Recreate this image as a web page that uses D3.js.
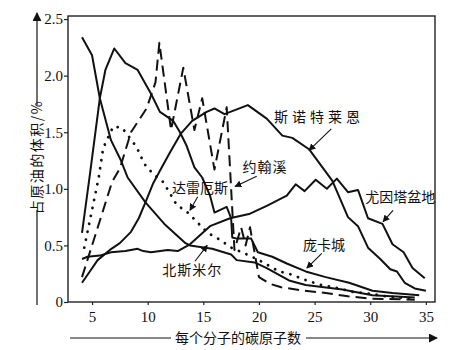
<!DOCTYPE html>
<html>
<head>
<meta charset="utf-8">
<script src="https://cdn.jsdelivr.net/npm/d3@7"></script>
<style>
  body { margin: 0; background: #fff; }
  svg { display: block; }
  .cn { font-family: "Noto Sans CJK SC", sans-serif; font-size: 14px; fill: #111; }
  .num { font-family: "Liberation Serif", "Times New Roman", Times, serif; font-size: 15px; fill: #111; }
</style>
</head>
<body>
<div id="chart"></div>
<script>
// values: [carbon number, volume %]
const northSmear = [[4.1,2.34],[5,2.18],[5.7,1.8],[6.7,1.43],[7.6,1.25],[8.2,1.1],[9.8,0.88],[11.5,0.69],[13.4,0.52],[13.8,0.5],[15.8,0.47],[17.5,0.42],[18,0.37],[19.6,0.35],[20.7,0.3],[22.7,0.19],[24.2,0.15],[27.5,0.11],[30.2,0.06],[34,0.04]];
const poncaCity = [[4.1,0.61],[4.8,1.12],[5.7,1.8],[6.2,2.05],[7,2.24],[8,2.11],[9.1,2.05],[10.3,1.84],[11.1,1.68],[12.3,1.6],[12.9,1.5],[13.5,1.38],[14.2,1.19],[14.9,1.1],[15.6,0.94],[16,0.79],[17.1,0.84],[17.5,0.74],[17.6,0.57],[18,0.56],[19.3,0.56],[19.9,0.44],[21.2,0.4],[22.5,0.34],[24.2,0.27],[26,0.22],[28.1,0.17],[30.2,0.1],[32,0.08],[34.4,0.06]];
const darius = [[4.3,0.48],[5.1,0.86],[5.6,1.1],[6,1.36],[6.9,1.55],[7.7,1.54],[9,1.37],[9.7,1.22],[10.5,1.13],[11.4,1.06],[12.6,0.86],[13.6,0.79],[14.5,0.7],[15.4,0.61],[16.5,0.55],[17.5,0.48],[18.7,0.43],[19.8,0.38],[20.9,0.32],[21.8,0.27],[22.7,0.25],[24.3,0.19],[25.6,0.15],[27.2,0.12],[28.4,0.09],[30.2,0.07],[31.4,0.05],[34,0.03]];
const johnCreek = [[4.1,0.22],[6.8,1.06],[7.5,1.18],[8.5,1.5],[9.9,1.71],[10.7,1.94],[11.05,2.29],[12.1,1.52],[13.2,2.07],[14.2,1.52],[14.9,1.8],[16,1.17],[17.1,1.72],[17.8,0.46],[18.4,0.66],[18.8,0.5],[19.2,0.66],[20,0.22],[21,0.16],[22,0.13],[24,0.1],[26,0.08],[28,0.05],[30,0.03],[34,0.02]];
const snotterain = [[4.1,0.17],[4.8,0.27],[5.5,0.37],[6.6,0.46],[7.5,0.52],[8.5,0.62],[9.2,0.74],[9.8,0.88],[10.5,1.05],[11.1,1.16],[12,1.32],[13,1.49],[14,1.6],[15.3,1.68],[16,1.71],[16.9,1.66],[19,1.74],[20.7,1.62],[22.1,1.47],[23,1.45],[24.5,1.35],[26.6,1.07],[28,0.75],[28.9,0.67],[29.8,0.48],[30.9,0.38],[31.8,0.29],[32.4,0.27],[33.1,0.17],[34,0.12],[35,0.1]];
const uintaBasin = [[4.1,0.38],[4.6,0.4],[5.7,0.41],[6.7,0.44],[8,0.45],[9.1,0.47],[9.6,0.45],[10.3,0.44],[11.8,0.46],[12.7,0.45],[13.8,0.51],[15.6,0.67],[17.4,0.74],[19.2,0.78],[20.7,0.85],[22.5,0.94],[23.3,1.04],[24.1,0.98],[25.1,1.08],[26.1,1.0],[27,1.09],[28,0.97],[28.9,0.99],[29.8,0.74],[31.1,0.69],[32,0.51],[33,0.44],[33.8,0.3],[34.9,0.21]];

const xTicks = [5, 10, 15, 20, 25, 30, 35];
const yTicks = [0, 0.5, 1.0, 1.5, 2.0, 2.5];
const yTickText = ["0", "0.5", "1.0", "1.5", "2.0", "2.5"];

// label text, label centre, arrow from, arrow to (data units)
const labels = [
  { text: "斯诺特莱恩", at: [25.4, 1.63], from: [26.5, 1.53], to: [24.5, 1.34], spacing: 4 },
  { text: "约翰溪", at: [20.55, 1.19], from: [19.8, 1.11], to: [17.85, 1.02], spacing: 1 },
  { text: "达雷厄斯", at: [14.7, 1.01], from: [14.5, 0.93], to: [13.8, 0.81], spacing: 0 },
  { text: "北斯米尔", at: [14.0, 0.28], from: [14.25, 0.36], to: [15.35, 0.5], spacing: 1 },
  { text: "庞卡城", at: [25.85, 0.5], from: [25.65, 0.43], to: [24.3, 0.3], spacing: 0 },
  { text: "尤因塔盆地", at: [32.7, 0.93], from: [32.05, 0.81], to: [31.15, 0.71], spacing: 0 }
];

const width = 466, height = 350;
const plotLeft = 68, plotRight = 435, plotTop = 16, plotBottom = 302;

const svg = d3.select("#chart").append("svg")
  .attr("width", width).attr("height", height);

const x = d3.scaleLinear().domain([2.84, 35.82]).range([plotLeft, plotRight]);
const y = d3.scaleLinear().domain([0, 2.527]).range([plotBottom, plotTop]);

const defs = svg.append("defs");
defs.append("marker")
  .attr("id", "head")
  .attr("viewBox", "0 0 10 10")
  .attr("refX", 9).attr("refY", 5)
  .attr("markerWidth", 7).attr("markerHeight", 7)
  .attr("markerUnits", "userSpaceOnUse")
  .attr("orient", "auto")
  .append("path").attr("d", "M0,0 L10,5 L0,10 Z").attr("fill", "#111");
defs.append("marker")
  .attr("id", "bighead")
  .attr("viewBox", "0 0 10 10")
  .attr("refX", 9).attr("refY", 5)
  .attr("markerWidth", 9).attr("markerHeight", 9)
  .attr("markerUnits", "userSpaceOnUse")
  .attr("orient", "auto")
  .append("path").attr("d", "M0,0 L10,5 L0,10 Z").attr("fill", "#111");

// frame
svg.append("rect")
  .attr("x", plotLeft).attr("y", plotTop)
  .attr("width", plotRight - plotLeft).attr("height", plotBottom - plotTop)
  .attr("fill", "none").attr("stroke", "#222").attr("stroke-width", 1.4);

// axes
const xAxis = svg.append("g")
  .attr("transform", `translate(0,${plotBottom})`)
  .attr("font-family", null).attr("font-size", null)
  .call(d3.axisBottom(x).tickValues(xTicks).tickSize(3).tickSizeOuter(0).tickFormat(d3.format("d")));
xAxis.attr("font-family", null).attr("font-size", null);
xAxis.select(".domain").remove();
xAxis.selectAll("line").attr("stroke", "#222").attr("stroke-width", 1.2);
xAxis.selectAll("text").attr("class", "num").attr("fill", null).attr("dy", "0.95em");

const yAxis = svg.append("g")
  .attr("transform", `translate(${plotLeft},0)`)
  .call(d3.axisLeft(y).tickValues(yTicks).tickSize(4).tickSizeOuter(0).tickFormat((d, i) => yTickText[i]));
yAxis.attr("font-family", null).attr("font-size", null);
yAxis.select(".domain").remove();
yAxis.selectAll("line").attr("stroke", "#222").attr("stroke-width", 1.2);
yAxis.selectAll("text").attr("class", "num").attr("fill", null).attr("x", -5);

// curves
const line = d3.line().x(d => x(d[0])).y(d => y(d[1]));
const series = [
  { data: northSmear, dash: null },
  { data: poncaCity, dash: null },
  { data: snotterain, dash: null },
  { data: uintaBasin, dash: null },
  { data: johnCreek, dash: "11,6" },
  { data: darius, dash: "0.1,8" }
];
svg.append("g").selectAll("path")
  .data(series)
  .join("path")
  .attr("d", d => line(d.data))
  .attr("fill", "none")
  .attr("stroke", "#111")
  .attr("stroke-width", d => d.dash === "0.1,8" ? 2.8 : 2)
  .attr("stroke-linecap", d => d.dash === "0.1,8" ? "round" : "butt")
  .attr("stroke-linejoin", "round")
  .attr("stroke-dasharray", d => d.dash);

// labels with arrows
const ann = svg.append("g");
ann.selectAll("line")
  .data(labels)
  .join("line")
  .attr("x1", d => x(d.from[0])).attr("y1", d => y(d.from[1]))
  .attr("x2", d => x(d.to[0])).attr("y2", d => y(d.to[1]))
  .attr("stroke", "#111").attr("stroke-width", 1.1)
  .attr("marker-end", "url(#head)");
ann.selectAll("text")
  .data(labels)
  .join("text")
  .attr("class", "cn")
  .attr("x", d => x(d.at[0])).attr("y", d => y(d.at[1]))
  .attr("text-anchor", "middle")
  .attr("dy", "0.35em")
  .attr("letter-spacing", d => d.spacing)
  .text(d => d.text);

// y title with arrow
const yTitleX = 37, yTitleMid = 157;
svg.append("text")
  .attr("class", "cn")
  .attr("transform", `translate(${yTitleX},${yTitleMid}) rotate(-90)`)
  .attr("text-anchor", "middle")
  .attr("dy", "0.36em")
  .attr("letter-spacing", 1.5)
  .text("占原油的体积/%");
svg.append("line")
  .attr("x1", yTitleX).attr("x2", yTitleX)
  .attr("y1", 305).attr("y2", 210)
  .attr("stroke", "#111").attr("stroke-width", 1.2);
svg.append("line")
  .attr("x1", yTitleX).attr("x2", yTitleX)
  .attr("y1", 105).attr("y2", 13)
  .attr("stroke", "#111").attr("stroke-width", 1.2)
  .attr("marker-end", "url(#bighead)");

// x title with arrow
const xTitleY = 338;
svg.append("text")
  .attr("class", "cn")
  .attr("x", 238).attr("y", xTitleY)
  .attr("text-anchor", "middle")
  .attr("dy", "0.36em")
  .text("每个分子的碳原子数");
svg.append("line")
  .attr("x1", 70).attr("x2", 171)
  .attr("y1", xTitleY).attr("y2", xTitleY)
  .attr("stroke", "#111").attr("stroke-width", 1.2);
svg.append("line")
  .attr("x1", 306).attr("x2", 437)
  .attr("y1", xTitleY).attr("y2", xTitleY)
  .attr("stroke", "#111").attr("stroke-width", 1.2)
  .attr("marker-end", "url(#bighead)");
</script>
</body>
</html>
